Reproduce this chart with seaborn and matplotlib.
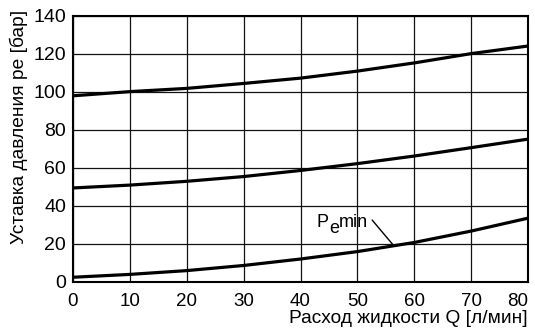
import matplotlib
matplotlib.use("Agg")
import matplotlib.pyplot as plt
import numpy as np
import pandas as pd
import seaborn as sns

# flow Q [l/min] and set pressure curves [bar]
flow = [0, 10, 20, 30, 40, 50, 60, 70, 80]
curve_high = [98, 100.2, 101.9, 104.5, 107.3, 111, 115.3, 120.2, 124.2]
curve_mid = [49.5, 51, 53, 55.5, 58.7, 62.3, 66.3, 70.7, 75.2]
curve_min = [2.5, 4, 6, 8.7, 12.1, 16, 20.8, 26.8, 33.6]

x_ticks = [0, 10, 20, 30, 40, 50, 60, 70, 80]
y_ticks = [0, 20, 40, 60, 80, 100, 120, 140]

df = pd.DataFrame({
    "Q": flow * 3,
    "p": curve_high + curve_mid + curve_min,
    "curve": ["high"] * 9 + ["mid"] * 9 + ["min"] * 9,
})

sns.set_style("white")
plt.rcParams['font.family'] = ['Liberation Sans', 'DejaVu Sans']
plt.rcParams['text.color'] = 'black'
plt.rcParams['axes.labelcolor'] = 'black'

fig = plt.figure(figsize=(5.35, 3.28), dpi=100)
ax = fig.add_axes([73 / 535, 1 - 282 / 328, 455 / 535, 266 / 328])

sns.lineplot(data=df, x="Q", y="p", units="curve", estimator=None,
             color="black", linewidth=2.3, ax=ax, legend=False)

ax.set_xlim(0, 80)
ax.set_ylim(0, 140)
ax.set_xticks(x_ticks)
ax.set_yticks(y_ticks)
ax.grid(True, color="#111111", linewidth=0.9)
ax.set_axisbelow(True)
for s in ax.spines.values():
    s.set_color("black")
    s.set_linewidth(1.5)
ax.tick_params(axis="both", length=0, colors="black", labelcolor="black")
ax.tick_params(axis="x", labelsize=13.5, pad=8)
ax.tick_params(axis="y", labelsize=14, pad=5)
ax.get_xticklabels()[-1].set_ha("right")

ax.set_xlabel("Расход жидкости Q [л/мин]", fontsize=13.8, color="black")
ax.xaxis.set_label_coords(1.0, -0.154)
ax.xaxis.label.set_ha("right")
ax.xaxis.label.set_va("baseline")
ax.set_ylabel("Уставка давления ре [бар]", fontsize=13.8, color="black")
ax.yaxis.set_label_coords(-0.12, 1.023)
ax.yaxis.label.set_ha("right")
ax.yaxis.label.set_va("center")

# label P_e min with a leader line to the lowest curve
t_p = ax.text(42.9, 29.1, "P", fontsize=13, ha="left", va="baseline", color="black")
t_e = ax.annotate("e", xy=(1, 0), xycoords=t_p, xytext=(0, -4.5),
                  textcoords="offset points", fontsize=13, ha="left", va="bottom",
                  color="black")
ax.annotate("min", xy=(1, 0), xycoords=t_e, xytext=(0, 4.5),
            textcoords="offset points", fontsize=13, ha="left", va="bottom",
            color="black")
ax.annotate("", xy=(56.4, 19.1), xytext=(52.6, 32.6),
            arrowprops=dict(arrowstyle="-", color="black", lw=1.0,
                            shrinkA=0, shrinkB=0))

fig.savefig("out.png", dpi=100)
